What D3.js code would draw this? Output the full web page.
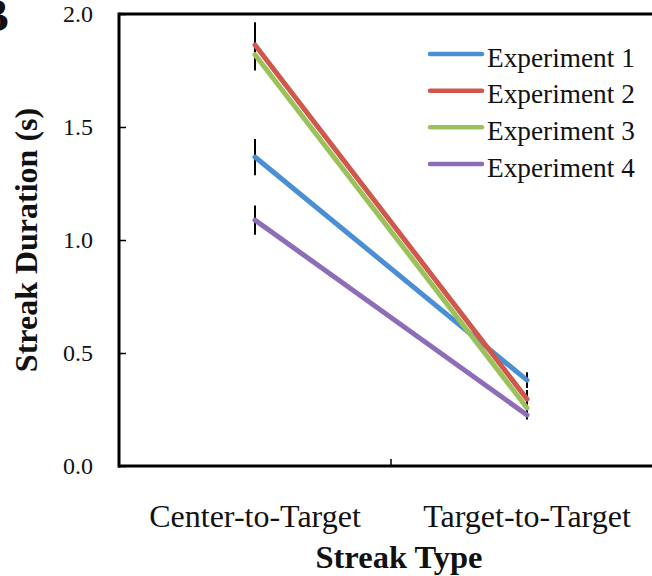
<!DOCTYPE html>
<html><head><meta charset="utf-8">
<script src="https://cdn.jsdelivr.net/npm/d3@7"></script>
<style>body{margin:0;background:#fff}svg{display:block}text{font-family:"Liberation Serif","Times New Roman",serif;fill:#111}</style>
</head><body>
<script>
const categories = ["Center-to-Target", "Target-to-Target"];
const seriesNames = ["Experiment 1", "Experiment 2", "Experiment 3", "Experiment 4"];
const exp1 = [1.367, 0.38];
const exp2 = [1.863, 0.296];
const exp3 = [1.82, 0.257];
const exp4 = [1.088, 0.226];
const err1 = [0.08, 0.035];
const err2 = [0.1, 0.04];
const err3 = [0.07, 0.03];
const err4 = [0.065, 0.02];
const yTicks = [0, 0.5, 1.0, 1.5, 2.0];
const colors = ["#4a8fd4", "#d0574c", "#9bc25a", "#8e6db8"];

const values = [exp1, exp2, exp3, exp4];
const errors = [err1, err2, err3, err4];

const W = 652, H = 576;
const svg = d3.select("body").append("svg").attr("width", W).attr("height", H);

const x = d3.scaleBand().domain(categories).range([119, 663]).padding(0);
const y = d3.scaleLinear().domain([0, 2]).range([466, 14]);

// panel label
svg.append("text").attr("x", -22).attr("y", 31).attr("font-size", 46).attr("font-weight", "bold").text("B");

// frame top line
svg.append("line").attr("x1", 119).attr("x2", 663).attr("y1", y(2)).attr("y2", y(2))
  .attr("stroke", "#000").attr("stroke-width", 3);

// y axis
const yAxis = svg.append("g").attr("transform", "translate(119,0)")
  .call(d3.axisRight(y).tickValues(yTicks).tickSize(7).tickFormat(""));
yAxis.select(".domain").remove();
yAxis.selectAll(".tick line").attr("stroke", "#000").attr("stroke-width", 1.5);
svg.append("line").attr("x1", 119).attr("x2", 119).attr("y1", y(2) - 1.5).attr("y2", y(0) + 1.5)
  .attr("stroke", "#000").attr("stroke-width", 3);
svg.append("g").selectAll("text").data(yTicks).join("text")
  .attr("x", 93).attr("y", d => y(d)).attr("dy", "0.35em").attr("text-anchor", "end")
  .attr("font-size", 24).text(d => d3.format(".1f")(d));

// x axis
svg.append("line").attr("x1", 118).attr("x2", 663).attr("y1", y(0)).attr("y2", y(0))
  .attr("stroke", "#000").attr("stroke-width", 3);
const midTicks = [x(categories[1])];
svg.append("g").selectAll("line").data(midTicks).join("line")
  .attr("x1", d => d).attr("x2", d => d).attr("y1", y(0)).attr("y2", y(0) - 7)
  .attr("stroke", "#000").attr("stroke-width", 1.5);
svg.append("g").selectAll("text").data(categories).join("text")
  .attr("x", d => x(d) + x.bandwidth() / 2).attr("y", 527).attr("text-anchor", "middle")
  .attr("font-size", 32).text(d => d);

// axis titles
svg.append("text").attr("x", 399).attr("y", 568).attr("text-anchor", "middle")
  .attr("font-size", 32.5).attr("font-weight", "bold").text("Streak Type");
svg.append("text").attr("transform", "translate(37,240) rotate(-90)").attr("text-anchor", "middle")
  .attr("font-size", 32).attr("font-weight", "bold").text("Streak Duration (s)");

const cx = c => x(c) + x.bandwidth() / 2;

// error bars
values.forEach((vals, i) => {
  svg.append("g").selectAll("line").data(categories).join("line")
    .attr("x1", cx).attr("x2", cx)
    .attr("y1", (c, j) => y(vals[j] + errors[i][j]))
    .attr("y2", (c, j) => y(vals[j] - errors[i][j]))
    .attr("stroke", "#000").attr("stroke-width", 2);
});

// lines
const line = d3.line().x((d, j) => cx(categories[j])).y(d => y(d));
values.forEach((vals, i) => {
  svg.append("path").datum(vals).attr("d", line).attr("fill", "none")
    .attr("stroke", colors[i]).attr("stroke-width", 5).attr("stroke-linecap", "round");
});

// legend
const legY = d3.scalePoint().domain(seriesNames).range([54, 164]);
const leg = svg.append("g").selectAll("g").data(seriesNames).join("g")
  .attr("transform", d => `translate(0,${legY(d)})`);
leg.append("line").attr("x1", 430).attr("x2", 482).attr("y1", 0).attr("y2", 0)
  .attr("stroke", (d, i) => colors[i]).attr("stroke-width", 4.5).attr("stroke-linecap", "round");
leg.append("text").attr("x", 487).attr("y", 12.5).attr("font-size", 27.3).text(d => d);
</script>
</body></html>
